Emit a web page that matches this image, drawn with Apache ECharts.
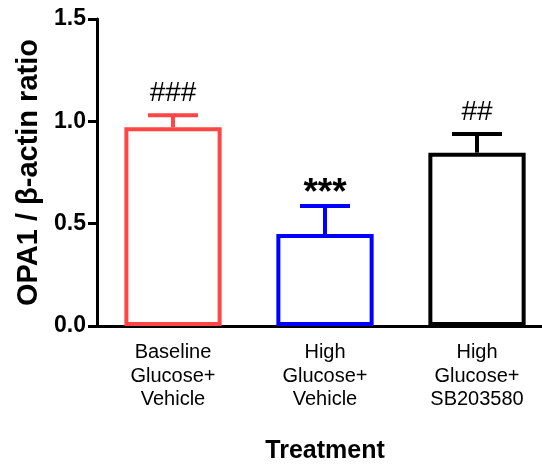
<!DOCTYPE html>
<html>
<head>
<meta charset="utf-8">
<script src="https://cdn.jsdelivr.net/npm/echarts@6/dist/echarts.min.js"></script>
<style>html,body{margin:0;padding:0;background:#fff;}#c{width:542px;height:464px;}</style>
</head>
<body>
<div id="c"></div>
<script>
const categories = ['Baseline\nGlucose+\nVehicle', 'High\nGlucose+\nVehicle', 'High\nGlucose+\nSB203580'];
const means = [0.971, 0.449, 0.847];
const errors = [0.059, 0.137, 0.091];
const annotations = ['###', '***', '##'];
const colors = ['#ff4646', '#0000ff', '#000000'];
const yTicks = { min: 0, max: 1.5, interval: 0.5 };

const FONT = '"Liberation Sans", Arial, sans-serif';
const chart = echarts.init(document.getElementById('c'), null, { renderer: 'canvas' });

const option = {
  backgroundColor: '#fff',
  animation: false,
  grid: { left: 97, right: -11, top: 19, bottom: 138, outerBoundsMode: 'none', containLabel: false },
  xAxis: {
    type: 'category',
    data: categories,
    name: 'Treatment',
    nameLocation: 'middle',
    nameGap: 113,
    nameTextStyle: { fontFamily: FONT, fontWeight: 'bold', fontSize: 25, color: '#000' },
    axisLine: { lineStyle: { color: '#000', width: 3 } },
    axisTick: { alignWithLabel: true, length: 7, lineStyle: { color: '#000', width: 3 } },
    axisLabel: { fontFamily: FONT, fontSize: 20, color: '#000', lineHeight: 23.5, margin: 15, interval: 0 },
    splitLine: { show: false }
  },
  yAxis: {
    type: 'value',
    min: yTicks.min,
    max: yTicks.max,
    interval: yTicks.interval,
    name: 'OPA1 / β-actin ratio',
    nameLocation: 'middle',
    nameGap: 45,
    nameTextStyle: { fontFamily: FONT, fontWeight: 'bold', fontSize: 29, color: '#000' },
    axisLine: { show: true, lineStyle: { color: '#000', width: 3 } },
    axisTick: { show: true, length: 9, lineStyle: { color: '#000', width: 3 } },
    axisLabel: { fontFamily: FONT, fontWeight: 'bold', fontSize: 23, color: '#000', margin: 11,
      formatter: v => v.toFixed(1) },
    splitLine: { show: false }
  },
  series: [
    {
      type: 'bar',
      barWidth: '64%',
      data: means.map((m, i) => ({
        value: m,
        itemStyle: { color: '#fff', borderColor: colors[i], borderWidth: 4 }
      })),
      z: 2
    },
    {
      type: 'custom',
      z: 3,
      data: means.map((m, i) => [i, m, errors[i]]),
      renderItem: function (params, api) {
        const i = api.value(0);
        const m = api.value(1);
        const e = api.value(2);
        const base = api.coord([i, m]);
        const top = api.coord([i, m + e]);
        const half = 25;
        const col = colors[i];
        const label = annotations[i];
        const isStar = label.charAt(0) === '*';
        return {
          type: 'group',
          children: [
            { type: 'line', shape: { x1: base[0], y1: base[1], x2: top[0], y2: top[1] },
              style: { stroke: col, lineWidth: 4 } },
            { type: 'line', shape: { x1: top[0] - half, y1: top[1], x2: top[0] + half, y2: top[1] },
              style: { stroke: col, lineWidth: 4 } },
            { type: 'text', x: top[0], y: top[1] - (isStar ? 12 : 22),
              style: { text: label, fill: '#000', font: (isStar ? 'bold 37px ' : '28px ') + FONT,
                align: 'center', verticalAlign: 'middle' } }
          ]
        };
      }
    }
  ]
};
chart.setOption(option);
</script>
</body>
</html>
